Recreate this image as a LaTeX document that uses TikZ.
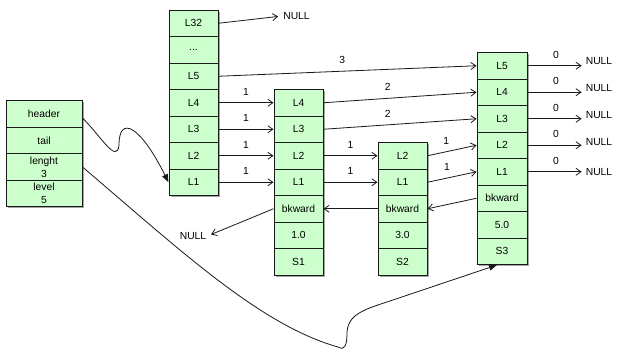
\documentclass[tikz,border=0pt]{standalone}
\usepackage{fontspec}
\setmainfont{Liberation Sans}
\usetikzlibrary{arrows.meta,shadows}
\definecolor{cellgreen}{RGB}{204,255,204}
\definecolor{ln}{RGB}{25,25,25}
\begin{document}
\begin{tikzpicture}[x=1pt,y=-1pt,
  cell/.style={draw=ln, line width=1pt, fill=cellgreen, minimum width=49pt, minimum height=26.5pt, inner sep=0pt, align=center,
    font=\fontsize{10.3}{13}\selectfont,
    drop shadow={shadow xshift=1.5pt,shadow yshift=-1.5pt,opacity=0.35,fill=black}},
  lk/.style={draw=ln, line width=0.8pt, -{Straight Barb[length=5pt,width=7pt]}},
  fk/.style={draw=ln, line width=0.8pt, -{Triangle[length=8pt,width=6pt]}},
  lbl/.style={font=\fontsize{10.3}{12}\selectfont, above=6pt, inner sep=1pt},
  txt/.style={font=\fontsize{10.3}{12}\selectfont, inner sep=1pt}]
\useasboundingbox (0,0) rectangle (627,359);
\fill[white] (0,0) rectangle (627,359);

% left header block
\node[cell, minimum width=76pt] (hd) at (44,114) {header};
\node[cell, minimum width=76pt] (tl) at (44,140.5) {tail};
\node[cell, minimum width=76pt] (len) at (44,167) {lenght\\3};
\node[cell, minimum width=76pt] (lvl) at (44,193.5) {level\\5};

% header level column
\node[cell] (c32) at (193.5,23.25) {L32};
\node[cell] (cdt) at (193.5,49.75) {...};
\node[cell] (c5) at (193.5,76.25) {L5};
\node[cell] (c4) at (193.5,102.75) {L4};
\node[cell] (c3) at (193.5,129.25) {L3};
\node[cell] (c2) at (193.5,155.75) {L2};
\node[cell] (c1) at (193.5,182.25) {L1};

% node S1
\node[cell] (a4) at (298.5,102.75) {L4};
\node[cell] (a3) at (298.5,129.25) {L3};
\node[cell] (a2) at (298.5,155.75) {L2};
\node[cell] (a1) at (298.5,182.25) {L1};
\node[cell] (abk) at (298.5,208.75) {bkward};
\node[cell] (av) at (298.5,235.25) {1.0};
\node[cell] (as) at (298.5,261.75) {S1};

% node S2
\node[cell] (b2) at (402.5,155.75) {L2};
\node[cell] (b1) at (402.5,182.25) {L1};
\node[cell] (bbk) at (402.5,208.75) {bkward};
\node[cell] (bv) at (402.5,235.25) {3.0};
\node[cell] (bs) at (402.5,261.75) {S2};

% node S3
\node[cell, minimum width=50pt] (d5) at (502,65.75) {L5};
\node[cell, minimum width=50pt] (d4) at (502,92.25) {L4};
\node[cell, minimum width=50pt] (d3) at (502,118.75) {L3};
\node[cell, minimum width=50pt] (d2) at (502,145.25) {L2};
\node[cell, minimum width=50pt] (d1) at (502,171.75) {L1};
\node[cell, minimum width=50pt] (dbk) at (502,198.25) {bkward};
\node[cell, minimum width=50pt] (dv) at (502,224.75) {5.0};
\node[cell, minimum width=50pt] (ds) at (502,251.25) {S3};

% NULL nodes
\node[txt] (n0) at (296.5,16) {NULL};
\node[txt] (nb) at (193,236) {NULL};
\node[txt] (nd5) at (599,61) {NULL};
\node[txt] (nd4) at (599,88) {NULL};
\node[txt] (nd3) at (599,115) {NULL};
\node[txt] (nd2) at (599,142) {NULL};
\node[txt] (nd1) at (599,172) {NULL};

% header column forward pointers
\draw[lk, shorten >=4pt] (c32.east) -- (n0.west);
\draw[lk] (c5.east) -- node[lbl, pos=0.48] {3} (d5.west);
\draw[lk] (c4.east) -- node[lbl] {1} (a4.west);
\draw[lk] (c3.east) -- node[lbl] {1} (a3.west);
\draw[lk] (c2.east) -- node[lbl] {1} (a2.west);
\draw[lk] (c1.east) -- node[lbl] {1} (a1.west);

% S1 forward pointers
\draw[lk] (a4.east) -- node[lbl, pos=0.42] {2} (d4.west);
\draw[lk] (a3.east) -- node[lbl, pos=0.42] {2} (d3.west);
\draw[lk] (a2.east) -- node[lbl] {1} (b2.west);
\draw[lk] (a1.east) -- node[lbl] {1} (b1.west);

% S2 forward pointers
\draw[lk] (b2.east) -- node[lbl, pos=0.38] {1} (d2.west);
\draw[lk] (b1.east) -- node[lbl, pos=0.4] {1} (d1.west);

% S3 forward pointers
\foreach \r in {5,4,3,2,1}{
  \draw[lk, shorten >=3pt] (d\r.east) -- node[lbl] {0} (d\r.east -| nd\r.west);
}

% backward pointers
\draw[lk] (dbk.west) -- (bbk.east);
\draw[lk] (bbk.west) -- (abk.east);
\draw[lk, shorten >=4pt] (abk.west) -- (nb.east);

% header -> L1
\draw[fk] ([yshift=-4pt]hd.east) .. controls (100,135) and (117,165) .. (119,145)
  .. controls (119,115) and (140,125) .. (c1.west);

% lenght -> S3
\draw[fk] (len.east) .. controls (180,250) and (260,325) .. (338,347)
  .. controls (345,351) and (347,345) .. (347,332)
  .. controls (348,318) and (358,312) .. (375,306)
  -- ([xshift=-5pt]ds.south);
\end{tikzpicture}
\end{document}
